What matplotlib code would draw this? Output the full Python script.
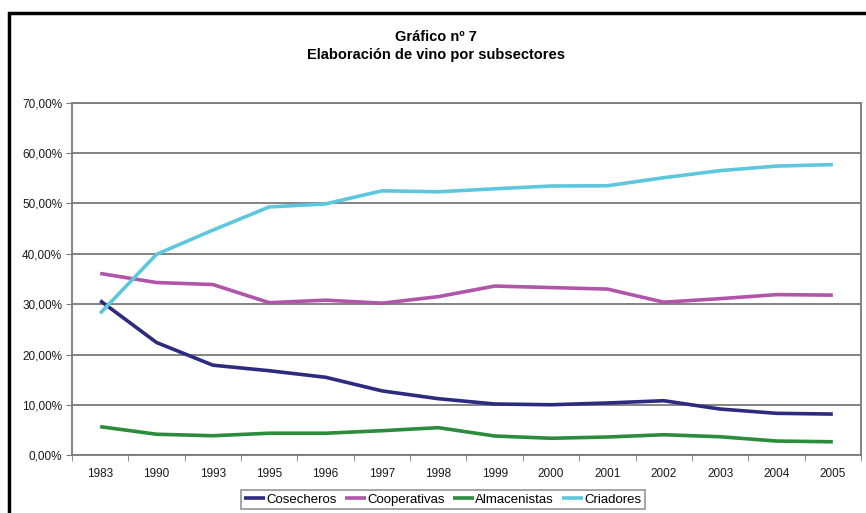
import matplotlib
matplotlib.use("Agg")
import matplotlib.patches as patches
import matplotlib.pyplot as plt
import numpy as np
from matplotlib.ticker import FuncFormatter

plt.rcParams["font.family"] = ["Liberation Sans", "DejaVu Sans"]

years = ["1983", "1990", "1993", "1995", "1996", "1997", "1998",
         "1999", "2000", "2001", "2002", "2003", "2004", "2005"]

# Share of wine production per subsector (%).
cosecheros = [30.7, 22.4, 17.9, 16.8, 15.5, 12.8, 11.25, 10.2, 10.05, 10.4, 10.85, 9.2, 8.35, 8.2]
cooperativas = [36.1, 34.3, 33.9, 30.3, 30.8, 30.2, 31.5, 33.6, 33.3, 33.0, 30.4, 31.1, 31.9, 31.8]
almacenistas = [5.7, 4.2, 3.9, 4.4, 4.4, 4.9, 5.5, 3.85, 3.4, 3.65, 4.1, 3.7, 2.85, 2.7]
criadores = [28.2, 39.9, 44.7, 49.3, 49.9, 52.5, 52.3, 52.9, 53.45, 53.5, 55.1, 56.5, 57.4, 57.7]

series = [
    ("Cosecheros", cosecheros, "#2d2b80"),
    ("Cooperativas", cooperativas, "#b055aa"),
    ("Almacenistas", almacenistas, "#2b8c3c"),
    ("Criadores", criadores, "#5dc7de"),
]

W, H = 866, 513
fig = plt.figure(figsize=(W / 100, H / 100), dpi=100)
ax = fig.add_axes([72 / W, 1 - 455.4 / H, (861 - 72) / W, (455.4 - 102.6) / H])

x = np.arange(len(years))
for name, vals, color in series:
    ax.plot(x, vals, color=color, linewidth=2.6, label=name, solid_capstyle="butt")

ax.set_xlim(-0.5, len(years) - 0.5)
ax.set_ylim(0, 70)
ax.set_yticks(np.arange(0, 71, 10))
ax.yaxis.set_major_formatter(FuncFormatter(lambda v, p: f"{v:.2f}%".replace(".", ",")))
ax.grid(axis="y", color="#7a7a7a", linewidth=1.3)
ax.set_axisbelow(True)

ax.set_xticks(x)
ax.set_xticklabels(years)
ax.set_xticks(np.arange(-0.5, len(years), 1), minor=True)
ax.tick_params(axis="x", which="major", length=0, pad=9, labelsize=8.5, colors="#1a1a1a")
ax.tick_params(axis="x", which="minor", length=4, color="#7a7a7a", direction="out")
ax.tick_params(axis="y", length=4, color="#7a7a7a", labelsize=8.5, labelcolor="#1a1a1a", pad=3)

for s in ax.spines.values():
    s.set_color("#7a7a7a")
    s.set_linewidth(1.3)

fig.text(436 / W, 1 - 37 / H, "Gráfico nº 7", ha="center", va="center",
         fontsize=10.5, fontweight="bold")
fig.text(436 / W, 1 - 55 / H, "Elaboración de vino por subsectores", ha="center",
         va="center", fontsize=10.5, fontweight="bold")

leg = fig.legend(loc="upper center", bbox_to_anchor=(443 / W, 1 - 490 / H), ncol=4,
                 fontsize=9.5, frameon=True, fancybox=False, edgecolor="#7a7a7a",
                 handlelength=1.6, handletextpad=0.1, columnspacing=0.6,
                 borderpad=0.25, borderaxespad=0)
leg.get_frame().set_linewidth(1.2)

# Outer frame around the chart (runs past the right and bottom edges).
frame = patches.Rectangle((9 / W, -0.05), 1.1, 1 - 13 / H + 0.05,
                          transform=fig.transFigure, fill=False,
                          edgecolor="black", linewidth=2.5, clip_on=False)
fig.patches.append(frame)

fig.savefig("out.png", dpi=100)
